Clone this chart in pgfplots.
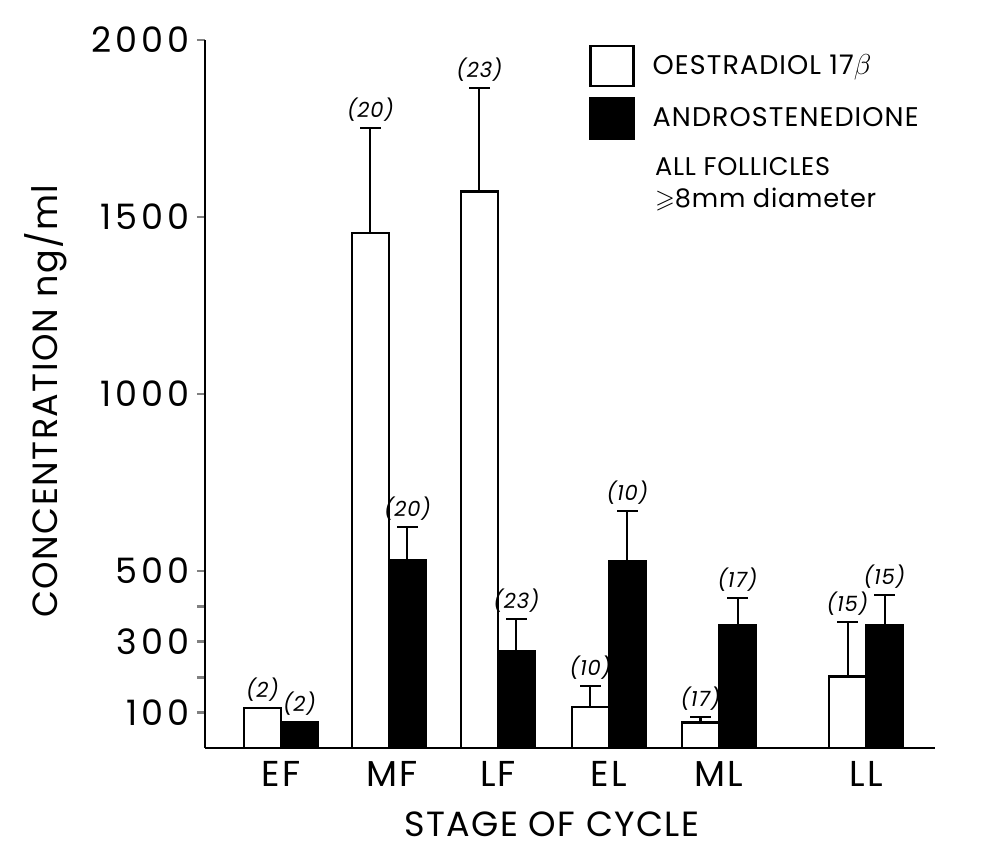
\documentclass[border=0pt]{standalone}
\usepackage{pgfplots}
\pgfplotsset{compat=1.18}
\usepackage{amssymb}
\usepackage{fontspec}
\setmainfont{Poppins}
\begin{document}
\begin{tikzpicture}
\useasboundingbox (0,0) rectangle (491pt,423.5pt);
\begin{axis}[
  at={(102.5pt,49.5pt)}, anchor=south west,
  scale only axis, width=365pt, height=354pt,
  xmin=205, xmax=935, ymin=0, ymax=2000,
  axis lines*=left,
  axis line style={line width=1.4pt},
  clip=false,
  xtick={281,392,498,609,719,866},
  xticklabels={EF,MF,LF,EL,ML,LL},
  xtick style={draw=none},
  xticklabel style={font=\fontsize{18}{20}\selectfont\addfontfeatures{LetterSpace=6}, yshift=1pt},
  ytick={100,200,300,400,500,1000,1500,2000},
  yticklabels={100,{},300,{},500,1000,1500,2000},
  ytick style={line width=1.4pt},
  tick align=outside,
  major tick length=4pt,
  yticklabel style={font=\fontsize{17.5}{19}\selectfont\addfontfeatures{LetterSpace=12}, xshift=0pt},
  ylabel={CONCENTRATION ng/ml},
  ylabel style={at={(axis description cs:-0.218,0.490)}, anchor=center, font=\fontsize{17.5}{19}\selectfont\addfontfeatures{LetterSpace=4}},
  xlabel={STAGE OF CYCLE},
  xlabel style={at={(axis description cs:0.475,-0.108)}, anchor=center, font=\fontsize{17.5}{19}\selectfont\addfontfeatures{LetterSpace=4}},
  legend style={at={(axis description cs:0.526,0.994)}, anchor=north west, draw=none, fill=none,
    inner sep=0pt, row sep=5pt, font=\fontsize{13.5}{15}\selectfont\addfontfeatures{LetterSpace=4}, cells={anchor=west}},
  legend image code/.code={\draw[#1, line width=1.3pt] (0pt,-10pt) rectangle (21.5pt,10pt); \path[draw=none, fill=none] (0pt,0pt) (29pt,0pt);},
]
\addlegendimage{fill=white, draw=black}
\addlegendentry{OESTRADIOL 17$\beta$}
\addlegendimage{fill=black, draw=black}
\addlegendentry{ANDROSTENEDIONE}

% Oestradiol 17beta (white bars)
\addplot[ybar, bar width=37, bar shift=0, fill=white, draw=black, line width=1.4pt, forget plot,
  error bars/.cd, y dir=plus, y explicit, error bar style={line width=1pt},
  error mark options={rotate=90, mark size=5.25pt, line width=1.1pt}]
  coordinates {
  (262.5,113) +- (0,0)
  (370.5,1455) +- (0,296)
  (479.5,1573) +- (0,291)
  (590.5,116) +- (0,59)
  (700.5,71) +- (0,17)
  (847.5,201) +- (0,155)
  };

% Androstenedione (black bars)
\addplot[ybar, bar width=37, bar shift=0, fill=black, draw=black, line width=1.4pt, forget plot,
  error bars/.cd, y dir=plus, y explicit, error bar style={line width=1pt},
  error mark options={rotate=90, mark size=5.25pt, line width=1.1pt}]
  coordinates {
  (299.5,73) +- (0,0)
  (407.5,531) +- (0,93)
  (516.5,274) +- (0,90)
  (627.5,528) +- (0,141)
  (737.5,345) +- (0,79)
  (884.5,345) +- (0,87)
  };

% sample sizes
\addplot[draw=none, forget plot, point meta=explicit symbolic, nodes near coords,
  nodes near coords style={font=\fontsize{10.5}{12}\selectfont\itshape\addfontfeatures{LetterSpace=4}, anchor=south, inner sep=1pt, yshift=2pt}]
  coordinates {
  (262.5,113) [(2)]
  (370.5,1751) [(20)]
  (479.5,1864) [(23)]
  (590.5,175) [(10)]
  (700.5,88) [(17)]
  (847.5,356) [(15)]
  (299.5,73) [(2)]
  (407.5,624) [(20)]
  (516.5,364) [(23)]
  (627.5,669) [(10)]
  (737.5,424) [(17)]
  (884.5,432) [(15)]
  };

\node[anchor=north west, align=left, inner sep=0pt, font=\fontsize{12.8}{16}\selectfont\addfontfeatures{LetterSpace=3}]
  at (axis description cs:0.616,0.835) {ALL FOLLICLES\\$\geqslant$8mm diameter};
\end{axis}
\end{tikzpicture}
\end{document}
